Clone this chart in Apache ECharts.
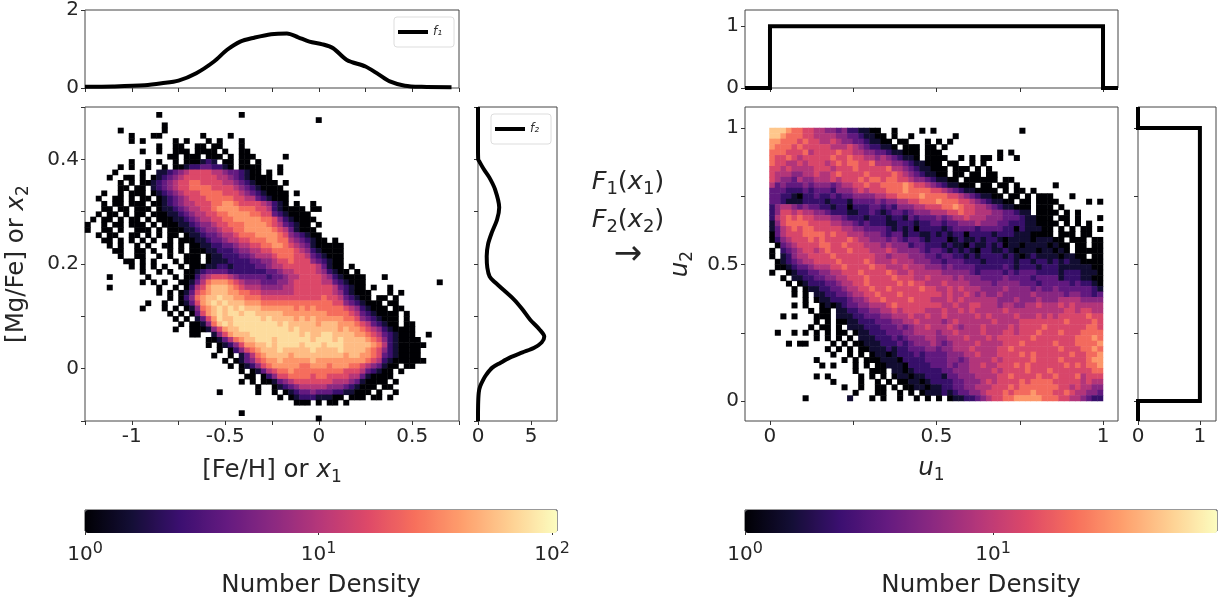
<!DOCTYPE html>
<html><head><meta charset="utf-8">
<style>html,body{margin:0;padding:0;background:#fff}#c{width:1222px;height:602px}</style>
<script src="https://cdn.jsdelivr.net/npm/echarts@6/dist/echarts.min.js"></script>
</head><body><div id="c"></div>
<script>
const MAGMA = ['#000004','#140e36','#3b0f70','#641a80','#8c2981','#b73779','#de4968','#f7705c','#fe9f6d','#fecf92','#fcfdbf'];
const TEXT = '#262626', FONT = 'DejaVu Sans';

// f1([Fe/H]) marginal
const f1X = [-1.25,-1.1,-0.93,-0.84,-0.75,-0.655,-0.56,-0.49,-0.42,-0.345,-0.255,-0.17,-0.11,-0.05,0.02,0.077,0.15,0.25,0.32,0.38,0.46,0.55,0.71];
const f1Y = [0.03,0.04,0.07,0.12,0.19,0.38,0.68,0.98,1.19,1.29,1.38,1.40,1.30,1.19,1.12,1.02,0.72,0.55,0.35,0.17,0.06,0.03,0.02];
// f2([Mg/Fe]) marginal
const f2Y = [0.5,0.42,0.4,0.395,0.381,0.366,0.343,0.308,0.285,0.26,0.238,0.215,0.193,0.176,0.165,0.132,0.113,0.094,0.075,0.061,0.05,0.04,0.031,0.021,0.011,0.002,-0.011,-0.021,-0.034,-0.046,-0.07,-0.1];
const f2V = [0,0,0.02,0.15,0.55,1.05,1.6,2.0,1.8,1.3,0.95,0.82,0.88,1.1,1.6,3.4,4.2,4.9,5.8,6.25,6.0,5.3,4.2,3.0,2.1,1.35,0.8,0.5,0.2,0.07,0.01,0];
// uniform marginals after the transform
const u1Line = [[-0.075,0],[0,0],[0,1],[1,1],[1,0],[1.045,0]];
const u2Line = [[0,1.077],[0,1],[1,1],[1,0],[0,0],[0,-0.073]];

// density level per character -> number density
const leftLevels  = [1,1.6,2.5,4,6.3,10,16,25,38,55,75];
const rightLevels = [1,1.5,2.3,3.6,5.5,8.5,13,20,31,48,74];

// binned number density, read row by row from the top ('.' = empty bin)
const leftRows = [
"",
".......... ...0...... ........0.",
".......... .......... .......... .......... ..0.......",
".......... ....0.....",
"......0... ....0.....",
"........0. ..00...... .0....0...",
"........0. 0.....0.0. ..0.0...0.",
".......... ...0..00.. 00.00...0.",
".......... 0..0..000. 0000.0..00",
".......... .....00.00 0.000.0.00 0.....0...",
"........0. .0.0..0.00 0121.00.00 .0........",
"......0.0. .0..0.0012 2332210.00 00...0....",
".....0.... 0..1123456 6665543321 00.0.0....",
"....0..00. 0.01234566 6666554321 0000......",
"......0.0. 0012345667 7666655432 10000.0...",
"......00.0 0.12345667 7776666543 210000....",
"...0..0.00 0.01234566 6777766654 3210000.0.",
"..0..00.0. 00.0123456 6677777665 5321000...",
"...0.00.00 0.00123455 6667788766 6654210.0. .0........",
"...00.00.0 00.0112345 5667888877 7665210000 .00.......",
"..0.00.0.0 0.00011234 5566778888 7766321000 0.........",
".0.00.0.00 .0.0001123 4556677888 8877642100 00........",
"0..0.00.00 0.0.000112 3445667778 8887653210 0.0.......",
"0..00.0..0 00.0.00011 2344566778 8888765310 00........",
"..0.00..00 .0.0.00.01 1233455677 7888876432 100.......",
"...00.0.0. 0.0..0.000 1123345566 7778877543 2100.0....",
"....0.0..0 .0..00.0.0 0112233455 6677887654 3100000...",
".....00..0 0.0..0.0.0 0011222344 5566777765 4210000...",
"......0..0 0..0.0..00 0.01122233 4555677766 5321000...",
".......00. 0.0...0.00 0.01112222 3344566766 6432100...",
"........0. 0.0.0..0.0 0011221222 2334556666 6653100.0.",
".......... 0..0.0..00 1233332222 2223345566 66542100.0",
"....0..... .0....0.00 2456665433 3332334556 6665421000 0...0.....",
".......... 0.0.0..001 3578887654 4433344566 6665532100 0......... ....0...",
"....0..... ...0..0.02 5689998765 5544445566 6666653210 0.0..0....",
".......... ...0.0.013 6789998877 6655555566 6666654210 00...0.0..",
".......... .....0.024 7899a99887 7766666666 6667665321 00.00.0...",
".......... .0..0..013 689a9a9998 8877777777 7777766432 1000.00...",
".......... 0...0.0.01 4789a9a9a9 9988888878 7877777654 21000.00..",
".......... .....0.0.0 3689a9aa9a a999998888 8888777765 3210000.0.",
".......... ......0.0. 1368a99aaa aa9a999989 8988888776 4321000.0.",
".......... .......0.0 01479a9aaa aaaaa9a999 9989998887 6532100.00",
".......... ......0..0 00146899aa aaaaaaa9a9 9999998988 7654210000",
".......... .........0 0..1468999 aaaaaaaaa9 a99aa99998 8765321000 ..0.....",
".......... .......... ..00135789 9aaa9aaaaa a9aaa9a999 9876421000 0.......",
".......... .......... ..0.012468 899a9aaaa9 aaa9aaa999 9987521000 00......",
".......... .......... ....0.0246 78999a9999 9a9999a999 9876421000 0.......",
".......... .......... ...0..0.13 5789999899 9999999899 8876321000 0.......",
".......... .......... .....0.013 4678898888 8988888888 8765210000 00......",
".......... .......... ......0.01 2467888887 7888788877 6543100.00 ........",
".......... .......... ........0. 0135677877 7777777666 532100.0..",
".......... .......... .........0 0.02466777 7677666655 310000....",
".......... .......... ........0. 0.00134566 6666655543 10000.0...",
".......... .......... .......... .0..012345 5555444321 000.00....",
".......... .......... ....0..... .0..0.0123 3433322110 00.0..0...",
".......... .......... .......... .....0.012 2211100.00 0.00.0....",
".......... .......... .......... ........00 0.0.00.0..",
"",
".......... .......... ........0.",
".......... .......... .......... .......... ..0......."
];
const rightRows = [
"9998776655 4434221100 ..0....0.0 .......... .....0....",
"9987776655 5544332110 0.0..0.... ...0......",
"8877767665 5654433211 00.00...0. 0.0.......",
"8777676666 6555654322 110.000.00 .0........",
"7776667566 6676655443 3211000.00 0......... .0.0......",
"7667656666 6766766554 5432110.00 00..0.0.00 .0..0.....",
"7665565666 5676776675 5544321100 0.00..0.0.",
"6656555566 6566676666 6755432110 00.000.0.0",
"6555445565 5676666766 6676543211 00.00.00.0 0.........",
"6544354455 5656667677 6776654432 1100.00000 0.00......",
"5343334344 4345566766 7777876654 3211000.00 .00.0.... ..0.......",
"3332223233 3244456566 6777877776 6543211000 0.0.00.0.. ..........",
"3322102232 2323344445 5667777877 7766543211 00.00.0.00 0...0.....",
"3321112222 1222133334 3445566777 8777665432 1100.00.00 00.....0.0",
"2455434332 2122022233 2324445566 6778766554 3211000.00 0.0.......",
"2466565544 3222112232 1233234445 5566766555 4433211.00 00.0.0....",
"2567676655 5443222122 2122132333 4345565554 4433321100 0.00.0...0",
"1467777666 6554432322 2112221223 3233444544 4332221100 00.0.0.0..",
"1356767766 6665544333 3212120222 2123333233 3322021110 0.0.0.00.0",
"0356667777 6766555444 3233122112 1212202222 1222111000 0.000.00..",
"0245666767 6666765544 4343233212 2201211212 2101111011 100.000.00",
".034566667 7667666555 4544423322 2121102112 1201101111 0100.00.00",
"0.23456656 7666766655 5654444323 3212121022 1121011101 1010.00000",
"0.12455666 6766666665 5455544433 2332212122 2212101211 1101100.00",
".012345566 6676666765 5565554443 3233322212 2222122122 1212110000",
".001233455 5667666676 6555655544 4343333222 2232122212 2211111100",
"0..0122334 4556667666 6765565555 5444443233 3323233322 2212221110",
"..0.112233 4455666766 6676665565 5554544433 3343333233 3312221100",
"...0.01222 3345566766 6667676655 5655554444 3444433323 3333232210",
"....0.0112 2334556676 6766666766 5565655544 4454444343 3433333321",
"....0.0.11 2233455667 6667666666 6565565454 4544444544 4443443323",
"......0.01 1222344566 7666676665 5565655555 5444544454 4455554444",
"....0.0..0 1012334455 5676666666 6556556655 5455445565 5565655555",
".......0.0 0.11223344 5565666655 5655656555 5565555555 5556656655",
"..0.0...00 0.11122333 4455565565 5655555656 5555655565 6566666766",
"........0. 0.00112223 3344556555 5456555555 6555566666 6667666676",
".......0.0 0.0.111222 3334345565 5565455565 5556566667 6666666776",
".0..0.0.0. 0.00.01122 2333445555 4556555565 5566566676 6676667777",
"........0. 0.0.0.1112 2232344455 4455565556 5666666766 6666677787",
"...0.00... .0.0.00111 2223234445 4345555655 5566676666 6766677778",
".......... 0.0.0.0011 1212233344 3445556555 5667666666 6676667787",
".......... .0..0.0.01 1012223233 3344455655 5666676766 6666766778",
"........0. ...0.0.000 1110222233 3344345555 6566666766 6676666788",
".........0 .0...0.0.0 0111022223 3343445565 5666767666 6667676778",
".......... .....0..00 0.11012222 2334445555 6566667666 7666666677",
"........0. 0.....0.0. 0.01101122 2133444555 5667666676 6766675666",
".......... .0....0..0 .0.0011012 2223344456 5666676777 7666665655",
".......... ...0..0..0 0.0.001101 1223344555 6667677777 7766565544",
".......... .....0...0 0..0.0.011 1212334456 6676777877 7667655443",
"......0... ....1...0. 0..0..0.0. 0.01122345 6677888887 7766554322"
];
const leftCols = 68, rightCols = 60;

// axis ticks and labels
const feTicks = [-1.25,-1,-0.75,-0.5,-0.25,0,0.25,0.5,0.75];
const feLabels = [-1,-0.5,0,0.5];
const mgTicks = [-0.1,0,0.1,0.2,0.3,0.4,0.5];
const mgLabels = [0,0.2,0.4];
const uTicks = [0,0.25,0.5,0.75,1];
const uLabels = [0,0.5,1];
const cbMajorLeft = [0,1,2], cbMajorRight = [0,1];
const cbMinorCounts = [2,3,4,5,6,7,8,9,20,30,40,50,60,70,80,90];
const cbMaxLeft = 105, cbMaxRight = 80;

function parse(rows, cols, levels){
  const out = [];
  rows.forEach((r, j) => {
    const s = r.replace(/ /g,'');
    for (let i = 0; i < cols && i < s.length; i++) {
      if (s[i] === '.') continue;
      out.push([i, j, +Math.log10(levels[parseInt(s[i], 16)]).toFixed(3)]);
    }
  });
  return out;
}
const range = n => Array.from({length:n}, (_, i) => String(i));

const grids = [], xAxes = [], yAxes = [], series = [];
const labelStyle = {fontFamily:FONT, fontSize:20, color:TEXT};
const NAME = 24.5;
const nameRich = {
  i:{fontFamily:FONT, fontSize:NAME, fontStyle:'italic', color:TEXT, lineHeight:30},
  s:{fontFamily:FONT, fontSize:17, color:TEXT, lineHeight:17, verticalAlign:'bottom'}
};
function valAxis(pos, grid, min, max, ticks, labels, extra){
  return Object.assign({
    type:'value', gridIndex:grid, position:pos, min, max, scale:false,
    axisLine:{show:false, onZero:false}, splitLine:{show:false},
    axisTick:{show:true, length:4, customValues:ticks, lineStyle:{color:'#333', width:1}},
    axisLabel: labels ? Object.assign({show:true, margin:6, customValues:labels, hideOverlap:false, formatter:v=>String(v)}, labelStyle) : {show:false},
    nameTextStyle:{fontFamily:FONT, fontSize:NAME, lineHeight:30, color:TEXT, rich:nameRich}
  }, extra||{});
}
function panel(left, top, width, height, xa, ya){
  const g = grids.length;
  grids.push({show:true, left, top, width, height, borderColor:'#444', borderWidth:1, backgroundColor:'transparent', containLabel:false});
  xa.gridIndex = g; ya.gridIndex = g;
  xAxes.push(xa); yAxes.push(ya);
  return {g, x:xAxes.length-1, y:yAxes.length-1};
}
function dataPanel(left, top, width, height, cols, rows){
  const g = grids.length;
  grids.push({show:false, left, top, width, height});
  xAxes.push({type:'category', gridIndex:g, data:range(cols), show:false});
  yAxes.push({type:'category', gridIndex:g, data:range(rows), inverse:true, show:false});
  return {g, x:xAxes.length-1, y:yAxes.length-1};
}
function curve(name, p, data){
  series.push({name, type:'line', xAxisIndex:p.x, yAxisIndex:p.y, data, showSymbol:false, symbol:'none',
    smooth:false, clip:true, z:5, lineStyle:{color:'#000', width:4, cap:'butt', join:'miter'}, itemStyle:{color:'#000'}, emphasis:{disabled:true}});
}
function colorbar(left, maxCount, majors){
  const lmax = Math.log10(maxCount);
  const a = panel(left, 510, 472, 23,
    valAxis('bottom',0,0,lmax,majors,majors,{axisLabel:Object.assign({show:true,margin:10,customValues:majors,formatter:v=>'10{u|'+Math.round(v)+'}',
        rich:{u:{fontFamily:FONT,fontSize:16,color:TEXT,lineHeight:16,verticalAlign:'top'}}, lineHeight:28},labelStyle),
      name:'Number Density', nameLocation:'middle', nameGap:40}),
    {type:'value', min:0, max:1, show:false});
  grids[a.g].borderColor = '#333';
  const minors = cbMinorCounts.map(c => Math.log10(c)).filter(v => v < lmax);
  const extra = valAxis('bottom',a.g,0,lmax,minors,null,{});
  extra.axisTick.length = 2;
  xAxes.push(extra);
}

// left block
const pTopL = panel(85,10,374,78, valAxis('bottom',0,-1.25,0.75,feTicks,null), valAxis('left',0,0,2,[0,2],[0,2]));
const pMainL = panel(85,107,374,314,
  valAxis('bottom',0,-1.25,0.75,feTicks,feLabels,{name:'[Fe/H] or {i|x}{s|1}', nameLocation:'middle', nameGap:35}),
  valAxis('left',0,-0.1,0.5,mgTicks,mgLabels,{name:'[Mg/Fe] or {i|x}{s|2}', nameLocation:'middle', nameGap:53, nameRotate:90}));
const pSideL = panel(478,107,79,314, valAxis('bottom',0,0,7.45,[0,5],[0,5]), valAxis('left',0,-0.1,0.5,mgTicks,null));
const dL = dataPanel(85,107,374,314,leftCols,leftRows.length);
// right block
const pTopR = panel(745,10,373,78, valAxis('bottom',0,-0.075,1.045,uTicks,null), valAxis('left',0,0,1.264,[0,1],[0,1]));
const pMainR = panel(745,107,373,314,
  valAxis('bottom',0,-0.075,1.045,uTicks,uLabels,{name:'{i|u}{s|1}', nameLocation:'middle', nameGap:33}),
  valAxis('left',0,-0.073,1.077,uTicks,uLabels,{name:'{i|u}{s|2}', nameLocation:'middle', nameGap:49, nameRotate:90}));
const pSideR = panel(1138,107,78,314, valAxis('bottom',0,0,1.26,[0,1],[0,1]), valAxis('left',0,-0.073,1.077,uTicks,null));
const dR = dataPanel(769.5,128,333.5,273,rightCols,rightRows.length);
// colour bars
colorbar(85, cbMaxLeft, cbMajorLeft);
colorbar(745, cbMaxRight, cbMajorRight);

series.push({type:'heatmap', name:'left density', xAxisIndex:dL.x, yAxisIndex:dL.y, data:parse(leftRows,leftCols,leftLevels), z:2, progressive:0, emphasis:{disabled:true}});
series.push({type:'heatmap', name:'right density', xAxisIndex:dR.x, yAxisIndex:dR.y, data:parse(rightRows,rightCols,rightLevels), z:2, progressive:0, emphasis:{disabled:true}});
curve('f₁', pTopL, f1X.map((x,i)=>[x,f1Y[i]]));
curve('f₂', pSideL, f2Y.map((y,i)=>[f2V[i],y]));
curve('u₁ marginal', pTopR, u1Line);
curve('u₂ marginal', pSideR, u2Line);
series[2].smooth = 0.3; series[3].smooth = 0.3;

function vm(left, maxCount, idx){
  return {type:'continuous', min:0, max:Math.log10(maxCount), seriesIndex:idx, dimension:2, orient:'horizontal',
    left, top:510, itemWidth:23, itemHeight:472, padding:0, showLabel:false, calculable:false, hoverLink:false, realtime:false,
    inRange:{color:MAGMA}, text:null};
}
function lg(name, left, top){
  return {data:[{name, icon:'rect'}], left, top, orient:'vertical', itemWidth:30, itemHeight:4, itemGap:0, padding:[9,12,9,4], selectedMode:false,
    borderColor:'#ddd', borderWidth:1, borderRadius:3, backgroundColor:'#fff', z:6,
    textStyle:{fontFamily:FONT, fontStyle:'italic', fontSize:12, color:'#333'}};
}
const mathRich = {
  i:{fontFamily:FONT, fontStyle:'italic', fontSize:25.5, color:TEXT, fill:TEXT, lineHeight:32},
  s:{fontFamily:FONT, fontSize:18, color:TEXT, fill:TEXT, lineHeight:18, verticalAlign:'bottom'},
  p:{fontFamily:FONT, fontSize:25.5, color:TEXT, fill:TEXT, lineHeight:32}
};
function note(text, y, size){
  return {type:'text', x:628, y, z:10, style:{text, rich:mathRich, font:(size||25)+'px "'+FONT+'"', fill:TEXT, textAlign:'center', verticalAlign:'middle'}};
}
const chart = echarts.init(document.getElementById('c'), null, {renderer:'canvas'});
chart.setOption({
  animation:false, backgroundColor:'#fff', tooltip:{show:false},
  grid:grids, xAxis:xAxes, yAxis:yAxes, series,
  visualMap:[vm(85,cbMaxLeft,0), vm(745,cbMaxRight,1)],
  legend:[lg('f₁',394,17), lg('f₂',491,114)],
  graphic:[note('{i|F}{s|1}{p|(}{i|x}{s|1}{p|)}',182), note('{i|F}{s|2}{p|(}{i|x}{s|2}{p|)}',220), note('→',255,34)]
});
</script></body></html>
